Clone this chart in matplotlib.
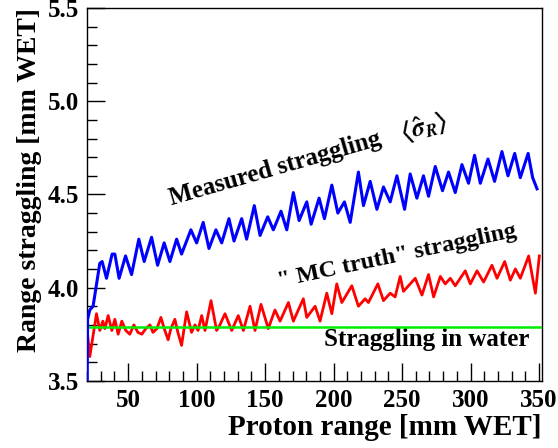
import matplotlib
matplotlib.use("Agg")
import matplotlib.pyplot as plt
from matplotlib.ticker import MultipleLocator, FormatStrFormatter

plt.rcParams["font.family"] = "Liberation Serif"
plt.rcParams["font.weight"] = "bold"
plt.rcParams["axes.labelweight"] = "bold"
plt.rcParams["mathtext.fontset"] = "stix"

# measured straggling <sigma_R> vs proton range
blue_x = [20.0, 20.4, 22.0, 24.4, 29.3, 31.0, 34.2, 38.3, 40.3, 43.4,
          48.1, 52.5, 57.8, 61.7, 67.1, 71.5, 76.3, 80.5, 85.4, 89.0,
          95.8, 100.0, 104.8, 109.0, 114.1, 118.3, 123.6, 127.3, 132.9, 136.5,
          142.1, 146.3, 151.9, 156.0, 161.6, 165.8, 170.6, 174.8, 180.4, 183.6,
          189.4, 193.3, 198.7, 203.1, 207.9, 212.1, 218.1, 221.8, 226.7, 231.6,
          236.4, 241.3, 246.2, 251.8, 255.9, 260.8, 265.6, 269.3, 274.2, 279.5,
          283.9, 288.8, 293.7, 298.5, 302.9, 307.1, 312.7, 317.5, 322.9, 327.3,
          332.2, 336.3, 342.0, 345.3, 348.5]
blue_y = [3.40, 3.83, 3.88, 3.90, 4.13, 4.14, 4.05, 4.18, 4.18, 4.05,
          4.17, 4.07, 4.26, 4.14, 4.27, 4.12, 4.24, 4.14, 4.26, 4.18,
          4.31, 4.24, 4.35, 4.21, 4.31, 4.24, 4.37, 4.25, 4.37, 4.26,
          4.44, 4.28, 4.38, 4.31, 4.41, 4.31, 4.51, 4.36, 4.46, 4.34,
          4.48, 4.37, 4.55, 4.40, 4.46, 4.35, 4.62, 4.44, 4.57, 4.42,
          4.54, 4.46, 4.60, 4.42, 4.61, 4.48, 4.60, 4.49, 4.65, 4.52,
          4.62, 4.51, 4.66, 4.56, 4.71, 4.56, 4.69, 4.57, 4.73, 4.60,
          4.72, 4.59, 4.72, 4.59, 4.53]

# "MC truth" straggling
red_x = [20.0, 22.0, 26.9, 29.3, 31.5, 33.0, 35.4, 38.1, 40.3, 42.7,
         45.4, 48.3, 51.2, 54.2, 57.1, 60.0, 62.9, 65.9, 68.1, 71.0,
         73.9, 76.8, 79.2, 81.2, 84.1, 86.3, 89.0, 92.7, 96.3, 98.8,
         101.0, 103.7, 106.1, 110.5, 114.6, 117.0, 120.7, 125.6, 130.4, 134.1,
         139.0, 142.6, 147.0, 152.3, 157.2, 160.9, 167.0, 170.6, 177.9, 180.4,
         186.5, 190.1, 195.0, 198.7, 202.3, 206.0, 213.3, 218.1, 223.0, 225.4,
         232.3, 236.4, 241.3, 244.9, 248.6, 251.0, 259.6, 264.5, 269.3, 273.0,
         277.9, 281.5, 285.2, 288.8, 296.1, 299.8, 304.7, 309.5, 315.6, 319.3,
         324.9, 329.0, 332.7, 336.3, 342.4, 347.3, 350.2]
red_y = [3.78, 3.63, 3.86, 3.77, 3.82, 3.78, 3.85, 3.77, 3.83, 3.75,
         3.82, 3.77, 3.75, 3.80, 3.76, 3.75, 3.78, 3.80, 3.76, 3.78,
         3.84, 3.77, 3.72, 3.78, 3.83, 3.76, 3.69, 3.87, 3.76, 3.80,
         3.77, 3.85, 3.77, 3.93, 3.77, 3.80, 3.86, 3.77, 3.85, 3.77,
         3.90, 3.77, 3.91, 3.78, 3.88, 3.82, 3.92, 3.82, 3.94, 3.84,
         3.90, 3.82, 3.97, 3.86, 4.02, 3.92, 4.01, 3.90, 3.94, 3.92,
         4.02, 3.93, 3.97, 3.95, 4.06, 3.98, 4.05, 3.96, 4.07, 3.95,
         4.06, 4.02, 4.05, 4.01, 4.09, 4.02, 4.09, 4.03, 4.12, 4.05,
         4.14, 4.04, 4.10, 4.05, 4.17, 3.97, 4.17]

water_straggling = 3.79

fig = plt.figure(figsize=(5.58, 4.48), dpi=100)
ax = fig.add_axes([0.156, 0.150, 0.815, 0.832])

ax.plot(red_x, red_y, color="#ff0000", lw=2.0, zorder=3)
ax.axhline(water_straggling, color="#00ee00", lw=1.8, zorder=4)
ax.plot(blue_x, blue_y, color="#0000ff", lw=2.2, zorder=5)

ax.set_xlim(20, 352)
ax.set_ylim(3.5, 5.5)
ax.xaxis.set_major_locator(MultipleLocator(50))
ax.xaxis.set_minor_locator(MultipleLocator(10))
ax.yaxis.set_major_locator(MultipleLocator(0.5))
ax.yaxis.set_minor_locator(MultipleLocator(0.1))
ax.yaxis.set_major_formatter(FormatStrFormatter("%.1f"))
ax.tick_params(which="both", direction="in", top=False, right=False,
               labelsize=18, width=1)
ax.tick_params(which="major", length=13, pad=6)
ax.tick_params(which="minor", length=7)
for s in ax.spines.values():
    s.set_linewidth(1)

ax.set_xlabel("Proton range [mm WET]", fontsize=21, fontweight="bold",
              loc="right", labelpad=1)
ax.set_ylabel("Range straggling [mm WET]", fontsize=20, fontweight="bold",
              loc="top", labelpad=4)

ax.text(157, 4.64, "Measured straggling", fontsize=18, rotation=16,
        ha="center", va="center")
ax.text(266, 4.86, r"$\langle\hat{\sigma}_{R}\rangle$", fontsize=18,
        fontweight="normal", rotation=16, ha="center", va="center")
ax.text(246, 4.17, '" MC truth" straggling', fontsize=17.5, rotation=12,
        ha="center", va="center")
ax.text(343, 3.72, "Straggling in water", fontsize=18, ha="right",
        va="center")

fig.savefig("out.png", dpi=100, facecolor="white")
